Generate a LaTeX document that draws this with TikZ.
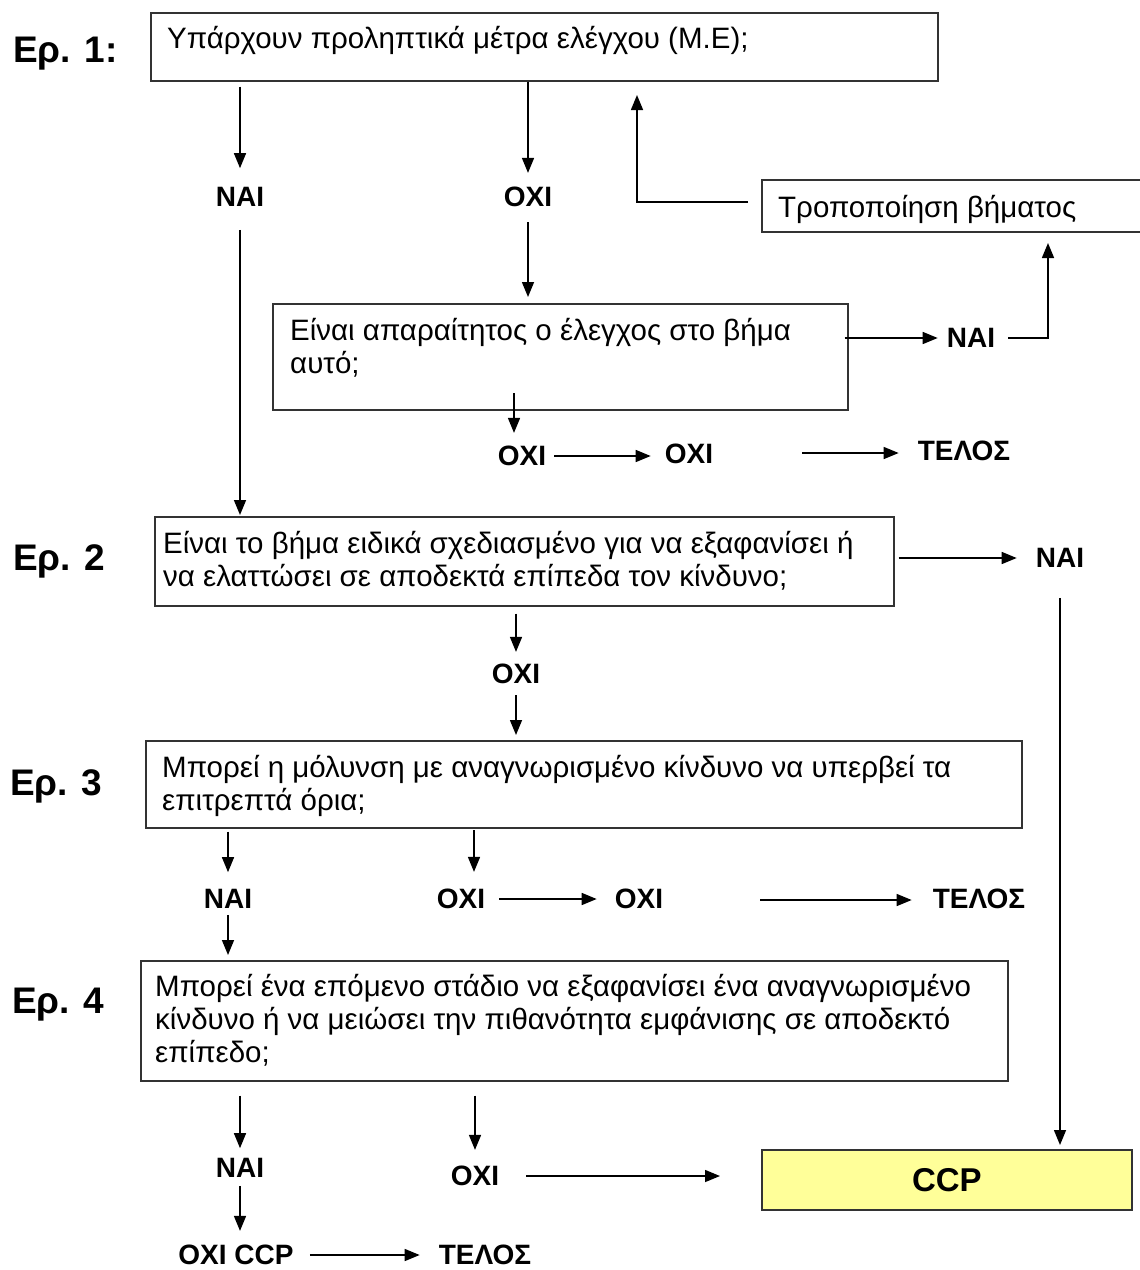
\documentclass[tikz,border=0pt]{standalone}
\usepackage{fontspec}
\setmainfont{Liberation Sans}
\usetikzlibrary{arrows.meta}
\definecolor{ccpfill}{HTML}{FFFF99}
\begin{document}
\begin{tikzpicture}[x=1pt,y=-1pt,
  box/.style={draw=black!80, line width=1.7pt, anchor=north west, inner sep=0pt},
  txt/.style={anchor=base west, inner sep=0pt, align=left, font=\fontsize{29.5}{33}\selectfont},
  lab/.style={inner sep=0pt, font=\fontsize{28}{33}\selectfont\bfseries},
  ep/.style={anchor=base west, inner sep=0pt, font=\fontsize{37}{44}\selectfont\bfseries},
  arr/.style={draw=black, line width=1.5pt, -{Triangle[length=15pt,width=12pt]}},
  ln/.style={draw=black, line width=1.5pt}]
\useasboundingbox (0,0) rectangle (1140,1270);
\fill[white] (0,0) rectangle (1140,1270);

% question labels
\node[ep] (e1) at (13,62) {Ερ. 1:};
\node[ep] (e2) at (13,570) {Ερ. 2};
\node[ep] (e3) at (10,795) {Ερ. 3};
\node[ep] (e4) at (12,1013) {Ερ. 4};

% boxes (text anchor = baseline of the last line)
\node[box, minimum width=787pt, minimum height=68pt] (b1) at (150,12) {};
\node[txt] (t1) at ([xshift=17pt,yshift=-36pt]b1.north west) {Υπάρχουν προληπτικά μέτρα ελέγχου (Μ.Ε);};

\node[box, minimum width=400pt, minimum height=52pt] (trop) at (761,179) {};
\node[txt] (ttrop) at ([xshift=17pt,yshift=-38pt]trop.north west) {Τροποποίηση βήματος};

\node[box, minimum width=575pt, minimum height=106pt] (b1b) at (272,303) {};
\node[txt] (t1b) at ([xshift=18pt,yshift=-70pt]b1b.north west) {Είναι απαραίτητος ο έλεγχος στο βήμα\\αυτό;};

\node[box, minimum width=739pt, minimum height=89pt] (b2) at (154,516) {};
\node[txt] (t2) at ([xshift=9pt,yshift=-70pt]b2.north west) {Είναι το βήμα ειδικά σχεδιασμένο για να εξαφανίσει ή\\να ελαττώσει σε αποδεκτά επίπεδα τον κίνδυνο;};

\node[box, minimum width=876pt, minimum height=87pt] (b3) at (145,740) {};
\node[txt] (t3) at ([xshift=17pt,yshift=-70pt]b3.north west) {Μπορεί η μόλυνση με αναγνωρισμένο κίνδυνο να υπερβεί τα\\επιτρεπτά όρια;};

\node[box, minimum width=867pt, minimum height=120pt] (b4) at (140,960) {};
\node[txt] (t4) at ([xshift=15pt,yshift=-102pt]b4.north west) {Μπορεί ένα επόμενο στάδιο να εξαφανίσει ένα αναγνωρισμένο\\κίνδυνο ή να μειώσει την πιθανότητα εμφάνισης σε αποδεκτό\\επίπεδο;};

\node[box, fill=ccpfill, minimum width=370pt, minimum height=60pt, font=\fontsize{33}{36}\selectfont\bfseries] (ccp) at (761,1149) {CCP};

% answer labels
\node[lab] (nai1) at (240,197) {ΝΑΙ};
\node[lab] (oxi1) at (528,197) {ΟΧΙ};
\node[lab] (nai1b) at (971,338) {ΝΑΙ};
\node[lab] (oxi1b) at (522,456) {ΟΧΙ};
\node[lab] (oxi1c) at (689,454) {ΟΧΙ};
\node[lab] (tel1) at (964,451) {ΤΕΛΟΣ};
\node[lab] (nai2) at (1060,558) {ΝΑΙ};
\node[lab] (oxi2) at (516,674) {ΟΧΙ};
\node[lab] (nai3) at (228,899) {ΝΑΙ};
\node[lab] (oxi3) at (461,899) {ΟΧΙ};
\node[lab] (oxi3b) at (639,899) {ΟΧΙ};
\node[lab] (tel3) at (979,899) {ΤΕΛΟΣ};
\node[lab] (nai4) at (240,1168) {ΝΑΙ};
\node[lab] (oxi4) at (475,1176) {ΟΧΙ};
\node[lab] (oxiccp) at (236,1255) {ΟΧΙ CCP};
\node[lab] (tel4) at (485,1255) {ΤΕΛΟΣ};

% free connector ends
\coordinate (k1) at (1048,231);
\coordinate (k2) at (637,80);
\coordinate (k3) at (514,393);
\coordinate (k4) at (802,453);
\coordinate (k5) at (474,827);
\coordinate (k6) at (760,900);

% connectors
\draw[arr, shorten <=5pt, shorten >=19pt] (b1.south -| nai1) -- (nai1.north);
\draw[arr, shorten >=14pt] (b1.south -| oxi1) -- (oxi1.north);
\draw[arr, shorten <=23pt, shorten >=1pt] (nai1.south) -- (nai1.south |- b2.north);
\draw[arr, shorten <=15pt, shorten >=6pt] (oxi1.south) -- (oxi1.south |- b1b.north);
\draw[arr, shorten <=-4pt, shorten >=9pt] (b1b.east |- nai1b) -- (nai1b.west);
\draw[arr, shorten <=13pt, shorten >=12pt] (nai1b.east) -| (k1);
\draw[arr, shorten <=13pt, shorten >=15pt] (trop.west |- 0,202) -| (k2);
\draw[arr, shorten >=13pt] (k3) -- (k3 |- oxi1b.north);
\draw[arr, shorten <=8pt, shorten >=14pt] (oxi1b.east) -- (oxi1b.east -| oxi1c.west);
\draw[arr, shorten >=19pt] (k4) -- (k4 -| tel1.west);
\draw[arr, shorten <=4pt, shorten >=19pt] (b2.east |- nai2) -- (nai2.west);
\draw[arr, shorten <=30pt, shorten >=4pt] (nai2.south) -- (nai2.south |- ccp.north);
\draw[arr, shorten <=7pt, shorten >=12pt] (b2.south -| oxi2) -- (oxi2.north);
\draw[arr, shorten <=11pt, shorten >=5pt] (oxi2.south) -- (oxi2.south |- b3.north);
\draw[arr, shorten <=3pt, shorten >=17pt] (b3.south -| nai3) -- (nai3.north);
\draw[arr, shorten <=6pt, shorten >=5pt] (nai3.south) -- (nai3.south |- b4.north);
\draw[arr, shorten <=3pt, shorten >=17pt] (k5) -- (k5 |- oxi3.north);
\draw[arr, shorten <=14pt, shorten >=18pt] (oxi3.east) -- (oxi3.east -| oxi3b.west);
\draw[arr, shorten >=21pt] (k6) -- (k6 -| tel3.west);
\draw[arr, shorten <=14pt, shorten >=10pt] (b4.south -| nai4) -- (nai4.north);
\draw[arr, shorten <=8pt, shorten >=14pt] (nai4.south) -- (nai4.south |- oxiccp.north);
\draw[arr, shorten <=16pt, shorten >=19pt] (oxiccp.east) -- (oxiccp.east -| tel4.west);
\draw[arr, shorten <=14pt, shorten >=16pt] (b4.south -| oxi4) -- (oxi4.north);
\draw[arr, shorten <=27pt, shorten >=41pt] (oxi4.east) -- (oxi4.east -| ccp.west);
\end{tikzpicture}
\end{document}
